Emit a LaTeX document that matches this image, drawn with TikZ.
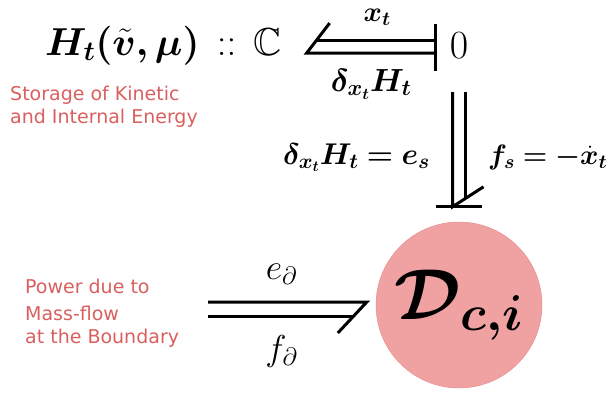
\RequirePackage{fix-cm}
\documentclass[tikz,border=0pt]{standalone}
\usepackage{amsmath,amssymb}
\usepackage{bm}
\usepackage{fontspec}
\newfontfamily\notefont{DejaVu Sans}
\usetikzlibrary{positioning,calc}
\definecolor{notered}{RGB}{218,95,95}
\definecolor{dissfill}{RGB}{240,162,162}
\definecolor{dissedge}{RGB}{232,135,135}

\begin{document}
\begin{tikzpicture}[
    x=1pt, y=-1pt,
    bond/.style={line width=3pt},
    lbl/.style={inner sep=0pt, font=\fontsize{28}{32}\selectfont},
    note/.style={align=left, inner sep=0pt, text=notered,
                 font=\notefont\fontsize{19}{23}\selectfont},
  ]
  \useasboundingbox (0,0) rectangle (608,394);

  % storage element, zero junction, dissipation
  \node[anchor=base west, inner sep=0pt, font=\fontsize{39}{44}\selectfont] (store)
        at (45,55) {$\bm{H_t(\tilde{v},\mu)}\,::\,\mathbb{C}$};
  \node[anchor=base, inner sep=0pt, font=\fontsize{40}{44}\selectfont] (zero)
        at (459,58) {$0$};
  \node[circle, draw=dissedge, fill=dissfill, minimum size=166pt, inner sep=0pt,
        font=\fontsize{72}{80}\selectfont] (diss) at (459,305)
        {\raisebox{12pt}{$\bm{\mathcal{D}_{c,i}}$}};

  \node[note, anchor=north west] (storenote) at (10,86)
        {Storage of Kinetic\\and Internal Energy};
  \node[note, anchor=north west] (powernote) at (25,279)
        {Power due to\\[4pt]Mass-flow\\at the Boundary};

  % bond zero -> storage
  \coordinate (bs) at ($(zero.west)+(-14,1.5)$);
  \coordinate (bt) at ($(bs)+(-129,0)$);
  \draw[bond] ($(bs)+(0,6.5)$) -- ($(bt)+(0,6.5)$) -- ++(23,-30);
  \draw[bond] ($(bs)+(0,-6.5)$) -- ($(bt)+(10,-6.5)$);
  \draw[bond] ($(bs)+(0,-23)$) -- ++(0,47);
  \coordinate (tm) at ($(bt)!0.5!(bs)$);
  \node[lbl, above=21pt of tm, xshift=6pt] (flowt) {$\bm{x_t}$};
  \node[lbl, below=22pt of tm, font=\fontsize{32}{36}\selectfont] (efft)
        {$\bm{\delta_{x_t}H_t}$};

  % bond zero -> dissipation
  \coordinate (vt) at ($(zero.south)+(0,34)$);
  \coordinate (vs) at ($(diss.north)+(0,-15)$);
  \draw[bond] ($(vt)+(-6.5,0)$) -- ($(vs)+(-6.5,0)$) -- ++(31,-20);
  \draw[bond] ($(vt)+(6.5,0)$) -- ($(vs)+(6.5,-8.4)$);
  \draw[bond] ($(vs)+(-23,0)$) -- ++(46,0);
  \coordinate (vm) at ($(vt)!0.5!(vs)+(0,8)$);
  \node[lbl, left=29pt of vm, font=\fontsize{30}{34}\selectfont] (effs)
        {$\bm{\delta_{x_t}H_t = e_s}$};
  \node[lbl, right=29pt of vm] (flows) {$\bm{f_s = -\dot{x}_t}$};

  % boundary bond -> dissipation
  \coordinate (hin) at (208,309);
  \coordinate (hend) at ($(hin -| diss.west)+(-9,0)$);
  \draw[bond] ($(hin)+(0,-7)$) -- ($(hend)+(0,-7)$) -- ++(-29,31);
  \draw[bond] ($(hin)+(0,7)$) -- ($(hend)+(-13,7)$);
  \coordinate (hm) at ($(hin)!0.5!(hend)+(-6,0)$);
  \node[lbl, above=24pt of hm, font=\fontsize{36}{40}\selectfont] (effb) {$e_\partial$};
  \node[lbl, below=26pt of hm, font=\fontsize{36}{40}\selectfont] (flowb) {$f_\partial$};
\end{tikzpicture}
\end{document}
